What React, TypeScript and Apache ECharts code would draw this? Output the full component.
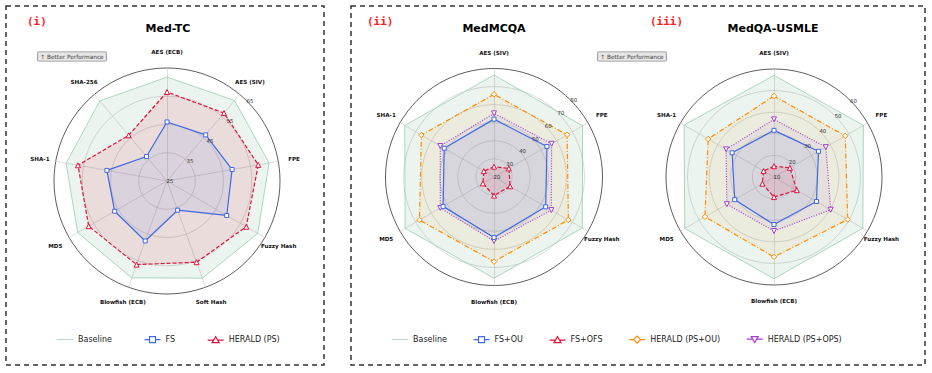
import React, { useEffect, useRef } from 'react';
import * as echarts from 'echarts';

// ---- Med-TC (9 encryption / hashing schemes) ----
const medTcAxes = ['AES (ECB)', 'AES (SIV)', 'FPE', 'Fuzzy Hash', 'Soft Hash', 'Blowfish (ECB)', 'MD5', 'SHA-1', 'SHA-256'];
const medTcTicks = ['25', '35', '45', '55', '65'];
const medTcBaseline = [61.8, 62.2, 61.7, 62.1, 61.6, 61.5, 61.5, 61.3, 62.0];
const medTcFs = [45.9, 46.3, 48.4, 49.4, 36.0, 47.6, 46.4, 46.6, 36.3];
const medTcHerald = [56.5, 56.4, 57.8, 57.4, 55.6, 56.5, 57.0, 57.0, 46.1];

// ---- QA benchmarks (6 schemes) ----
const qaAxes = ['AES (SIV)', 'FPE', 'Fuzzy Hash', 'Blowfish (ECB)', 'MD5', 'SHA-1'];

const mcqaTicks = ['20', '30', '40', '50', '60', '70', '80'];
const mcqaBaseline = [76.4, 76.6, 76.4, 76.0, 76.8, 77.0];
const mcqaFsOu = [52.0, 53.8, 53.0, 53.5, 52.5, 51.8];
const mcqaFsOfs = [25.7, 29.5, 30.3, 30.3, 27.1, 26.5];
const mcqaHeraldOu = [65.7, 66.7, 67.5, 66.8, 67.6, 66.4];
const mcqaHeraldOps = [55.2, 56.8, 56.6, 55.4, 54.3, 54.3];

const usmleTicks = ['10', '20', '30', '40', '50', '60'];
const usmleBaseline = [57.1, 57.8, 57.5, 57.1, 57.7, 58.1];
const usmleFsOu = [31.6, 33.8, 32.7, 32.0, 31.0, 32.4];
const usmleFsOfs = [15.0, 18.5, 22.2, 19.3, 16.2, 15.6];
const usmleHeraldOu = [47.5, 48.1, 49.4, 47.0, 46.9, 45.2];
const usmleHeraldOps = [36.7, 37.7, 40.3, 35.0, 35.2, 35.6];

const BLUE = '#4169E1';
const RED = '#DC143C';
const ORANGE = '#FF8C00';
const PURPLE = '#A040D0';
const GREEN_LINE = '#9dd2b8';
const GREEN_FILL = 'rgba(46,139,87,0.14)';
const FONT = 'DejaVu Sans';

const DOWN_TRIANGLE = 'path://M0,0 L10,0 L5,8.66 Z';

// legend glyphs: short line with the series marker in the middle (16 x 10 box)
const ICON_LINE = 'path://M0,4.6 L16,4.6 L16,5.4 L0,5.4 Z';
const ICON_RECT = 'path://M0,0 M0,5 L5,5 M5,2 L11,2 L11,8 L5,8 Z M11,5 L16,5 M16,10';
const ICON_TRI = 'path://M0,0 M0,5.5 L6,5.5 M4.5,8 L8,2 L11.5,8 Z M10,5.5 L16,5.5 M16,10';
const ICON_DIAMOND = 'path://M0,0 M0,5 L4.5,5 M4.5,5 L8,1.5 L11.5,5 L8,8.5 Z M11.5,5 L16,5 M16,10';
const ICON_DOWN = 'path://M0,0 M0,4.5 L6,4.5 M4.5,2 L11.5,2 L8,8 Z M10,4.5 L16,4.5 M16,10';

// ECharts lays radar indicators out counter-clockwise; keep the first axis on top and go clockwise
const cw = (a: any[]) => [a[0], ...a.slice(1).reverse()];

function makeRadar(axes: string[], ticks: string[], center: number[], radius: number) {
  const min = Number(ticks[0]);
  const max = Number(ticks[ticks.length - 1]);
  const splits = ticks.length - 1;
  return {
    center,
    radius,
    startAngle: 90,
    shape: 'circle',
    splitNumber: splits,
    nameGap: 16,
    indicator: cw(axes).map((name) => ({ name, min, max })),
    axisName: {
      color: '#111',
      fontSize: 5.6,
      fontWeight: 'bold',
      fontFamily: FONT,
      align: 'center',
      verticalAlign: 'middle',
    },
    axisLine: { lineStyle: { color: '#c6c6c6', width: 0.6 } },
    axisTick: { show: false },
    axisLabel: { show: false },
    splitLine: {
      lineStyle: { color: [...new Array(splits).fill('#d2d2d2'), '#333'], width: 0.8 },
    },
    splitArea: { show: false },
  };
}

function baselineSeries(radarIndex: number, values: number[]) {
  return {
    type: 'radar',
    radarIndex,
    symbol: 'none',
    z: 1,
    lineStyle: { color: GREEN_LINE, width: 0.8 },
    itemStyle: { color: GREEN_LINE },
    areaStyle: { color: GREEN_FILL },
    data: [{ name: 'Baseline', value: cw(values) }],
  };
}

function methodSeries(
  radarIndex: number,
  name: string,
  values: number[],
  color: string,
  symbol: string,
  symbolSize: number,
  lineType: any,
  fillAlpha: number,
  z: number
) {
  const rgb = echarts.color.parse(color);
  return {
    type: 'radar',
    radarIndex,
    symbol,
    symbolSize,
    z,
    lineStyle: { color, width: 1.2, type: lineType },
    itemStyle: { color: '#fff', borderColor: color, borderWidth: 1 },
    areaStyle: { color: `rgba(${rgb[0]},${rgb[1]},${rgb[2]},${fillAlpha})` },
    data: [{ name, value: cw(values) }],
  };
}

function tickPolar(center: number[], radius: number) {
  return { center, radius };
}

function tickAngle(polarIndex: number) {
  return { polarIndex, type: 'value', startAngle: 45, min: 0, max: 360, show: false };
}

function tickRadius(polarIndex: number, ticks: string[]) {
  return {
    polarIndex,
    type: 'category',
    data: ticks,
    boundaryGap: false,
    z: 10,
    axisLine: { show: false },
    axisTick: { show: false },
    splitLine: { show: false },
    splitArea: { show: false },
    axisLabel: {
      interval: 0,
      margin: 0,
      align: 'center',
      verticalAlign: 'middle',
      padding: [0, 0, 6, 6],
      fontSize: 5.4,
      color: '#333',
      fontFamily: FONT,
    },
  };
}

const legendText = { fontSize: 8, fontFamily: FONT, color: '#222' };

function legendItem(name: string, icon: string, color: string, fill = '#fff', borderWidth = 1.2) {
  return { name, icon, itemStyle: { color: fill, borderColor: color, borderWidth } };
}

function textEl(x: number, y: number, text: string, style: any) {
  return {
    type: 'text',
    x,
    y,
    silent: true,
    style: { text, align: 'center', verticalAlign: 'middle', textAlign: 'center', textVerticalAlign: 'middle', ...style },
  };
}

function tagEl(x: number, y: number) {
  return textEl(x, y, '\u2191 Better Performance', {
    fontSize: 5.8,
    fontFamily: FONT,
    fill: '#444',
    backgroundColor: '#e6e6e6',
    borderColor: '#8a8a8a',
    borderWidth: 0.8,
    borderRadius: 1,
    padding: [1.5, 2.5, 1, 2.5],
  });
}

const centers = [
  [167, 181],
  [494, 177],
  [774, 177],
];
const radii = [113, 108.5, 108];

const option: any = {
  animation: false,
  backgroundColor: '#fff',
  radar: [
    makeRadar(medTcAxes, medTcTicks, centers[0], radii[0]),
    makeRadar(qaAxes, mcqaTicks, centers[1], radii[1]),
    makeRadar(qaAxes, usmleTicks, centers[2], radii[2]),
  ],
  polar: [tickPolar(centers[0], radii[0]), tickPolar(centers[1], radii[1]), tickPolar(centers[2], radii[2])],
  angleAxis: [tickAngle(0), tickAngle(1), tickAngle(2)],
  radiusAxis: [tickRadius(0, medTcTicks), tickRadius(1, mcqaTicks), tickRadius(2, usmleTicks)],
  series: [
    baselineSeries(0, medTcBaseline),
    methodSeries(0, 'HERALD (PS)', medTcHerald, RED, 'triangle', 5, [4, 2], 0.15, 2),
    methodSeries(0, 'FS', medTcFs, BLUE, 'rect', 4, 'solid', 0.12, 3),

    baselineSeries(1, mcqaBaseline),
    methodSeries(1, 'HERALD (PS+OU)', mcqaHeraldOu, ORANGE, 'diamond', 5.5, [5, 2, 1, 2], 0.1, 2),
    methodSeries(1, 'HERALD (PS+OPS)', mcqaHeraldOps, PURPLE, DOWN_TRIANGLE, 5, [1, 1.6], 0.1, 3),
    methodSeries(1, 'FS+OU', mcqaFsOu, BLUE, 'rect', 4, 'solid', 0.12, 4),
    methodSeries(1, 'FS+OFS', mcqaFsOfs, RED, 'triangle', 5, [4, 2], 0.15, 5),

    baselineSeries(2, usmleBaseline),
    methodSeries(2, 'HERALD (PS+OU)', usmleHeraldOu, ORANGE, 'diamond', 5.5, [5, 2, 1, 2], 0.1, 2),
    methodSeries(2, 'HERALD (PS+OPS)', usmleHeraldOps, PURPLE, DOWN_TRIANGLE, 5, [1, 1.6], 0.1, 3),
    methodSeries(2, 'FS+OU', usmleFsOu, BLUE, 'rect', 4, 'solid', 0.12, 4),
    methodSeries(2, 'FS+OFS', usmleFsOfs, RED, 'triangle', 5, [4, 2], 0.15, 5),
  ],
  legend: [
    {
      left: 57,
      top: 334,
      padding: 0,
      itemWidth: 16,
      itemHeight: 10,
      itemGap: 32,
      selectedMode: false,
      textStyle: legendText,
      data: [
        legendItem('Baseline', ICON_LINE, GREEN_LINE, GREEN_LINE, 0),
        legendItem('FS', ICON_RECT, BLUE),
        legendItem('HERALD (PS)', ICON_TRI, RED),
      ],
    },
    {
      left: 392,
      top: 334,
      padding: 0,
      itemWidth: 16,
      itemHeight: 10,
      itemGap: 26,
      selectedMode: false,
      textStyle: legendText,
      data: [
        legendItem('Baseline', ICON_LINE, GREEN_LINE, GREEN_LINE, 0),
        legendItem('FS+OU', ICON_RECT, BLUE),
        legendItem('FS+OFS', ICON_TRI, RED),
        legendItem('HERALD (PS+OU)', ICON_DIAMOND, ORANGE),
        legendItem('HERALD (PS+OPS)', ICON_DOWN, PURPLE),
      ],
    },
  ],
  graphic: {
    elements: [
      {
        type: 'rect',
        silent: true,
        shape: { x: 6, y: 6, width: 318, height: 359 },
        style: { fill: 'none', stroke: '#333', lineWidth: 1.5, lineDash: [5, 4] },
      },
      {
        type: 'rect',
        silent: true,
        shape: { x: 351, y: 6, width: 574, height: 359 },
        style: { fill: 'none', stroke: '#333', lineWidth: 1.5, lineDash: [5, 4] },
      },
      textEl(168, 28, 'Med-TC', { fontSize: 11, fontWeight: 'bold', fontFamily: FONT, fill: '#000' }),
      textEl(494, 28, 'MedMCQA', { fontSize: 11, fontWeight: 'bold', fontFamily: FONT, fill: '#000' }),
      textEl(773, 28, 'MedQA-USMLE', { fontSize: 11, fontWeight: 'bold', fontFamily: FONT, fill: '#000' }),
      textEl(27, 21, '(i)', { align: 'left', textAlign: 'left', fontSize: 11, fontWeight: 'bold', fontFamily: 'DejaVu Sans Mono', fill: '#ff1a1a' }),
      textEl(367, 21, '(ii)', { align: 'left', textAlign: 'left', fontSize: 11, fontWeight: 'bold', fontFamily: 'DejaVu Sans Mono', fill: '#ff1a1a' }),
      textEl(650, 21, '(iii)', { align: 'left', textAlign: 'left', fontSize: 11, fontWeight: 'bold', fontFamily: 'DejaVu Sans Mono', fill: '#ff1a1a' }),
      tagEl(72, 56.5),
      tagEl(632, 56.5),
    ],
  },
};

export default function App() {
  const ref = useRef<HTMLDivElement>(null);
  useEffect(() => {
    if (!ref.current) return;
    const chart = echarts.init(ref.current, null, { renderer: 'svg' });
    chart.setOption(option);
    return () => chart.dispose();
  }, []);
  return (
    <div
      ref={ref}
      style={{ position: 'fixed', left: 0, top: 0, width: 932, height: 373, background: '#fff' }}
    />
  );
}
